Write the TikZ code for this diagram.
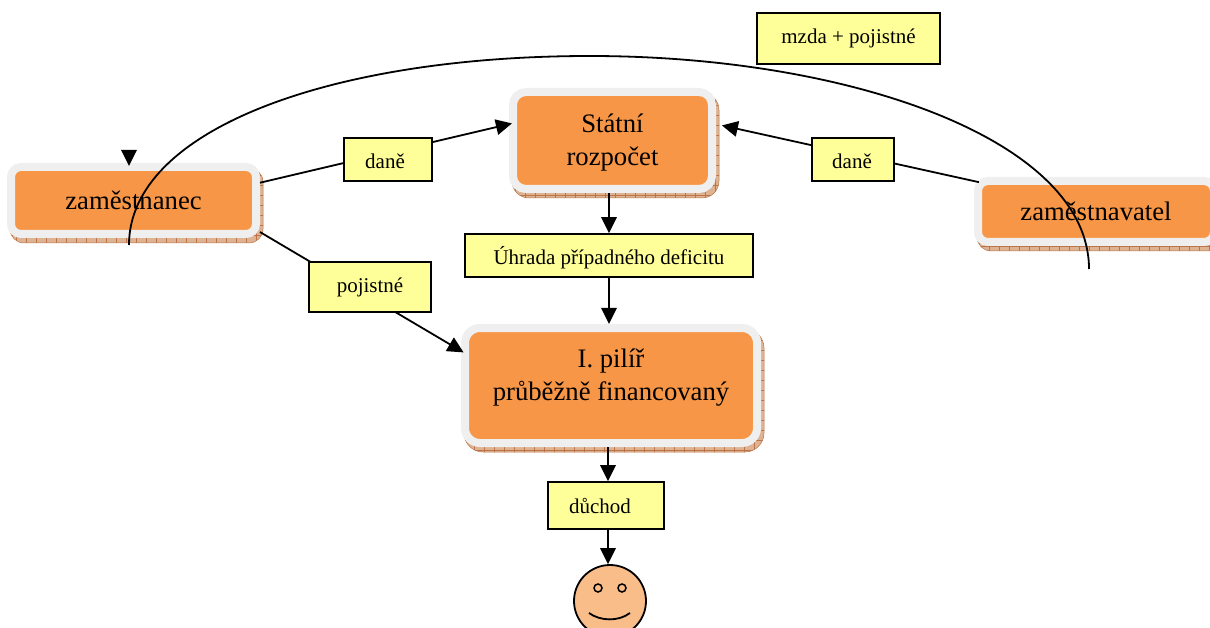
\documentclass[tikz,border=0pt]{standalone}
\usepackage{fontspec}
\setmainfont{Liberation Serif}
\usetikzlibrary{arrows.meta,calc}
\definecolor{boxorange}{HTML}{F79646}
\definecolor{boxrim}{HTML}{EFEFEF}
\definecolor{boxshadow}{HTML}{DDB393}
\definecolor{boxtick}{HTML}{BC7547}
\definecolor{notefill}{HTML}{FFFF99}
\definecolor{facefill}{HTML}{F9BD8A}
\tikzset{
  bigbox/.style={draw=boxrim,fill=boxorange,line width=8pt,inner sep=0pt,align=center,
    font=\fontsize{26.7}{33}\selectfont},
  shadowbox/.style={draw=boxtick,line width=0.5pt,fill=boxshadow,inner sep=0pt,
    path picture={
      \foreach \t in {-320,-310,...,320}{
        \draw[boxtick,line width=0.5pt] ($(path picture bounding box.center)+(\t,-100)$) -- ++(0,200);
      }
      \foreach \t in {-100,-90,...,100}{
        \draw[boxtick,line width=0.5pt] ($(path picture bounding box.center)+(-320,\t)$) -- ++(640,0);
      }
    }},
  notebox/.style={draw,fill=notefill,line width=1.8pt,inner sep=0pt,
    font=\fontsize{21}{25}\selectfont},
  link/.style={draw,line width=1.8pt},
  tiplink/.style={link,-{Triangle[length=16pt,width=15.5pt]}}
}
\begin{document}
\begin{tikzpicture}[x=1pt,y=-1pt]
  \useasboundingbox (0,0) rectangle (1210,628);
  \def \Boxes{
    zam/133.5/200.5/245/67/10/zaměstnanec,
    rozpocet/612.5/140.5/199/97/13/{\rule{0pt}{22pt}Státní\\rozpočet},
    pilir/611/385.5/292/115/15/{I. pilíř\\průběžně financovaný\\[-12pt]~},
    firma/1096/211.5/236/61/10/zaměstnavatel}
  \def \Notes{
    mzda/848.5/38.5/183/51/0/mzda + pojistné,
    danel/388/159.5/88/43/6/{\rule{0pt}{18pt}daně},
    daner/853/159.5/82/43/2/{\rule{0pt}{18pt}daně},
    uhrada/609/255.5/288/43/0/{\rule{0pt}{23pt}Úhrada případného deficitu},
    pojistne/370/287/122/50/0/pojistné,
    duchod/606/505.5/116/47/12/důchod}
  \foreach \id / \x / \y / \w / \h / \r / \t in \Boxes{
    \node[shadowbox,rounded corners=\r pt+4pt,minimum width=\w pt+8pt,minimum height=\h pt+8pt]
      (\id shadow) at (\x+3,\y+5) {};
    \node[bigbox,rounded corners=\r pt,minimum width=\w pt,minimum height=\h pt] (\id) at (\x,\y) {\t};
  }
  \node[draw,circle,fill=facefill,line width=1.8pt,minimum size=72pt,inner sep=0pt] (face) at (610,601) {};
  \node[draw,circle,fill=facefill,line width=1.5pt,minimum size=8pt,inner sep=0pt] (eyel) at (598,588) {};
  \node[draw,circle,fill=facefill,line width=1.5pt,minimum size=8pt,inner sep=0pt] (eyer) at (622,588) {};
  \coordinate (smilel) at (589,613);
  \coordinate (smiler) at (630,613);
  \draw[line width=1.8pt] (smilel) .. controls (600,621) and (618,622) .. (smiler);
  \coordinate (zamhead) at (129,151);
  \coordinate (arcl) at (129,245);
  \coordinate (arcr) at (1089,269);
  \path[tiplink,shorten >=-3pt] (zamhead) -- (zamhead |- zam.north);
  \path[tiplink,shorten >=-3pt] (zam.8) -- (rozpocet.171.5);
  \path[tiplink,shorten >=6pt,shorten <=-5pt] (firma.166) -- (rozpocet.9);
  \path[tiplink,shorten >=-3pt] (zam.-14) -- (pilir.167);
  \foreach \id / \x / \y / \w / \h / \d / \t in \Notes{
    \node[notebox,minimum width=\w pt,minimum height=\h pt] (\id) at (\x,\y) {\t\hspace*{\d pt}};
  }
  \path[tiplink] (uhrada.north |- rozpocet.south) -- (uhrada.north);
  \path[tiplink] (uhrada.south) -- (uhrada.south |- pilir.north);
  \path[tiplink] ([xshift=2pt]duchod.north |- pilir.south) -- ([xshift=2pt]duchod.north);
  \path[tiplink] ([xshift=2pt]duchod.south) -- ([xshift=2pt]duchod.south |- face.north);
  \path[link] (arcl) .. controls (129,130) and (330,56) .. (590,56)
    .. controls (850,56) and (1089,140) .. (arcr);
\end{tikzpicture}
\end{document}
